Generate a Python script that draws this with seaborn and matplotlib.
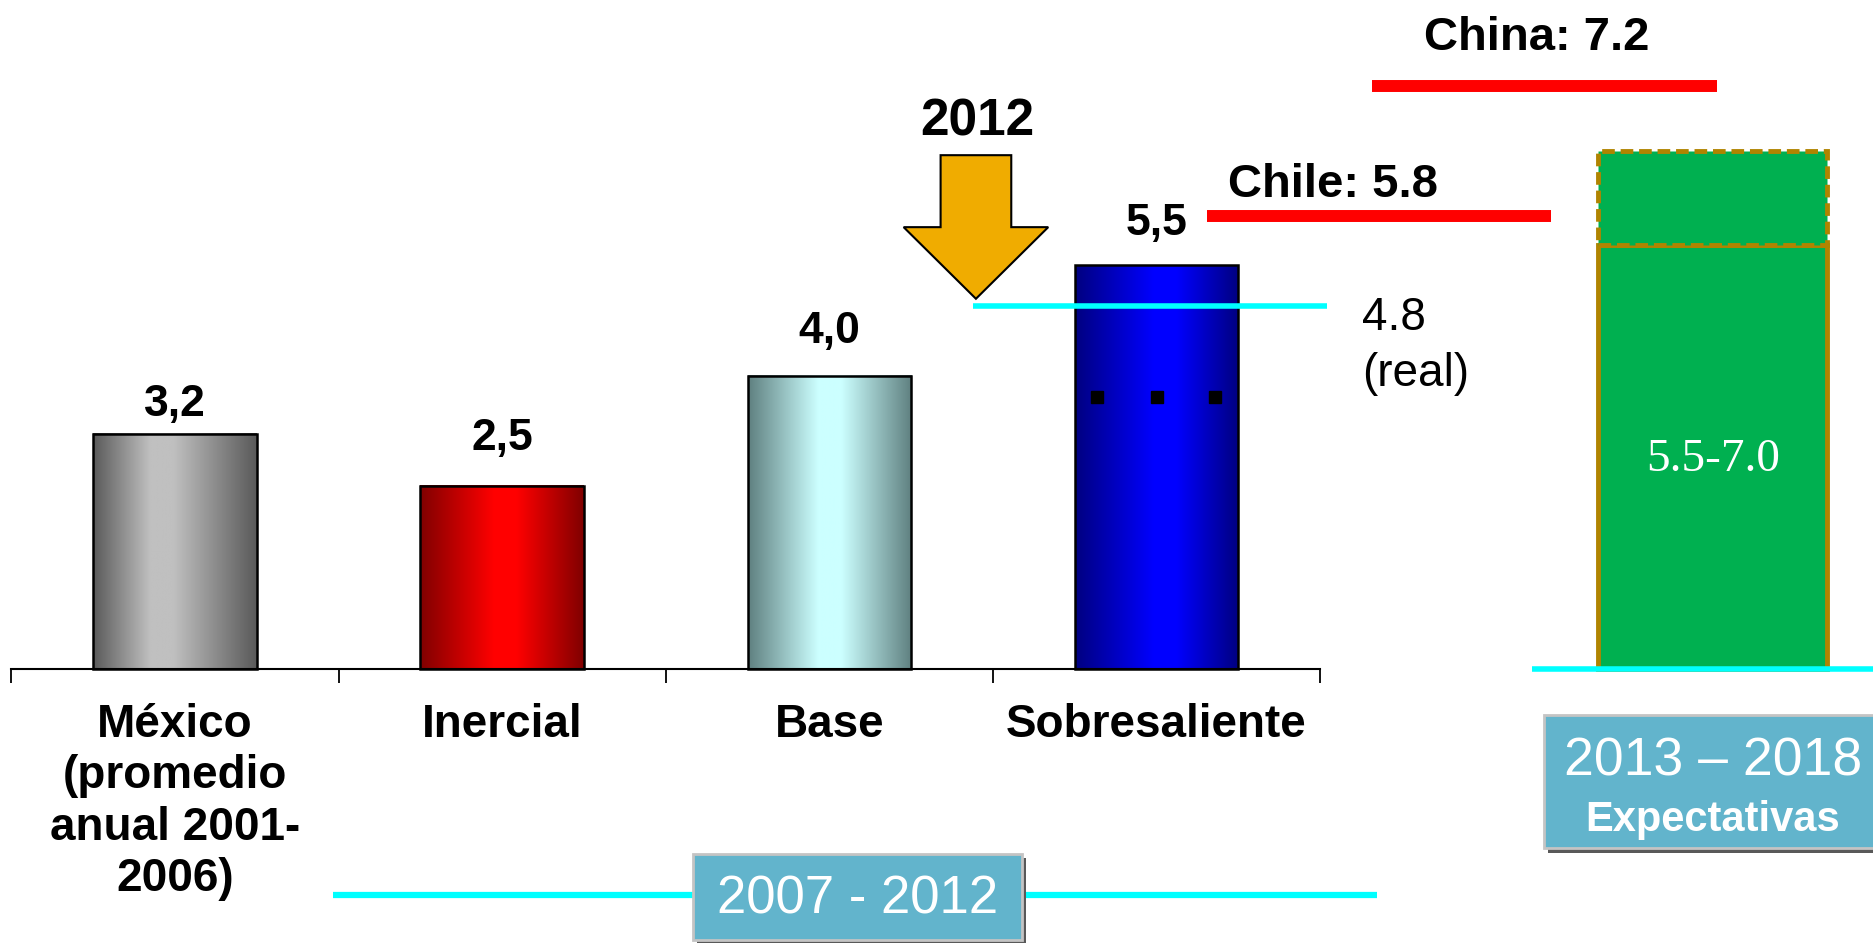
import numpy as np
import matplotlib
matplotlib.use("Agg")
import matplotlib.pyplot as plt
import seaborn as sns
from matplotlib.colors import LinearSegmentedColormap
from matplotlib.patches import Rectangle

# ========== DATA ==========
categories = ["México\n(promedio\nanual 2001-\n2006)", "Inercial", "Base", "Sobresaliente"]
values = [3.2, 2.5, 4.0, 5.5]
value_labels = ["3,2", "2,5", "4,0", "5,5"]
label_gap = [0.25, 0.48, 0.44, 0.42]

# 2013-2018 expectation bar (solid part + dashed upper part)
expect_x = 4.7
expect_low = 5.78
expect_high = 7.06
expect_label = "5.5-7.0"

# reference lines (as drawn in the picture)
real_2012_y = 4.95
chile_y = 6.17
china_y = 7.94
chile_label = "Chile: 5.8"
china_label = "China: 7.2"
real_label = "4.8\n(real)"

# bar gradients: edge colour, middle colour, middle position
bar_edges = ["#5a5a5a", "#800000", "#5f8080", "#000080"]
bar_mids = ["#c0c0c0", "#ff0000", "#ccffff", "#0000ff"]
mid_pos = [0.42, 0.52, 0.5, 0.55]

# ========== PLOT ==========
sns.set_style("white")
plt.rcParams["font.family"] = ["Liberation Sans", "DejaVu Sans"]
plt.rcParams["text.color"] = "black"
plt.rcParams["xtick.color"] = "black"
plt.rcParams["xtick.labelcolor"] = "black"

fig = plt.figure(figsize=(18.74, 9.43), dpi=100)
ax = fig.add_axes([0, 0, 1, 1])

sns.barplot(x=categories, y=values, width=0.5, color="white",
            edgecolor="black", linewidth=1.8, ax=ax)

grad = np.linspace(0, 1, 256).reshape(1, -1)
for i, bar in enumerate(ax.patches):
    x0, w, h = bar.get_x(), bar.get_width(), bar.get_height()
    m = mid_pos[i]
    cmap = LinearSegmentedColormap.from_list(
        "g%d" % i, [(0, bar_edges[i]), (m - 0.07, bar_mids[i]),
                    (m + 0.07, bar_mids[i]), (1, bar_edges[i])])
    ax.imshow(grad, cmap=cmap, extent=[x0, x0 + w, 0, h], aspect="auto", zorder=2)
    bar.set_facecolor("none")
    bar.set_zorder(3)
    ax.text(x0 + w / 2, h + label_gap[i], value_labels[i], ha="center", va="baseline",
            fontsize=32, fontweight="bold", zorder=6)

# expectation bar
ax.bar(expect_x, expect_low, width=0.7, color="#00b050", edgecolor="#b08400",
       linewidth=3.5, zorder=3)
ax.bar(expect_x, expect_high - expect_low, bottom=expect_low, width=0.7,
       color="#00b050", edgecolor="#b08400", linewidth=3.5,
       linestyle=(0, (2.6, 1.2)), zorder=3)
ax.text(expect_x, 2.85, expect_label, ha="center", va="center", fontsize=34,
        color="white", family=["Liberation Serif", "DejaVu Serif"], zorder=6)

# dots inside Sobresaliente bar
ax.plot([2.818, 3.0, 3.18], [3.71] * 3, "s", color="black", ms=8.5, zorder=5)

# reference lines
ax.plot([2.438, 3.52], [real_2012_y] * 2, color="#00ffff", lw=4, zorder=4,
        solid_capstyle="butt")
ax.plot([3.155, 4.206], [chile_y] * 2, color="#ff0000", lw=8.6, zorder=4,
        solid_capstyle="butt")
ax.plot([3.658, 4.714], [china_y] * 2, color="#ff0000", lw=8.6, zorder=4,
        solid_capstyle="butt")
ax.plot([4.148, 5.3], [0, 0], color="#00ffff", lw=4, zorder=4, solid_capstyle="butt")
ax.plot([0.484, 3.673], [-3.076] * 2, color="#00ffff", lw=4.5, zorder=2,
        solid_capstyle="butt")

ax.text(3.538, 6.43, chile_label, ha="center", va="baseline", fontsize=34,
        fontweight="bold")
ax.text(4.163, 8.43, china_label, ha="center", va="baseline", fontsize=34,
        fontweight="bold")
ax.text(3.629, 4.40, real_label, ha="left", va="center", fontsize=33,
        linespacing=1.35)

# 2012 arrow
ax.arrow(2.448, 7.0, 0, -1.955, width=0.216, head_width=0.442, head_length=0.975,
         length_includes_head=True, facecolor="#f0ac00", edgecolor="black",
         linewidth=1.5, zorder=5)
ax.text(2.453, 7.27, "2012", ha="center", va="baseline", fontsize=37,
        fontweight="bold")

# period boxes
dx, dy = 0.012, 0.055
for (bx, by, bw, bh) in [(1.584, -3.69, 1.005, 1.17), (4.185, -2.44, 1.2, 1.82)]:
    ax.add_patch(Rectangle((bx + dx, by - dy), bw, bh, facecolor="#595959",
                           edgecolor="none", zorder=5))
    ax.add_patch(Rectangle((bx, by), bw, bh, facecolor="#62b4cc",
                           edgecolor="#c4c4c4", linewidth=2, zorder=6))
ax.text(2.086, -3.14, "2007 - 2012", ha="center", va="center", fontsize=38,
        color="white", zorder=7)
ax.text(4.7, -1.45, "2013 – 2018", ha="center", va="baseline", fontsize=38.5,
        color="white", zorder=7)
ax.text(4.7, -2.2, "Expectativas", ha="center", va="baseline", fontsize=30,
        fontweight="bold", color="white", zorder=7)

# axis
for s in ["left", "right", "top"]:
    ax.spines[s].set_visible(False)
ax.spines["bottom"].set_position(("data", 0))
ax.spines["bottom"].set_bounds(-0.5, 3.5)
ax.spines["bottom"].set_linewidth(1.5)
ax.spines["bottom"].set_color("black")
ax.set_xticks([-0.5, 0.5, 1.5, 2.5, 3.5])
ax.set_xticklabels([])
ax.set_xticks(range(4), minor=True)
ax.set_xticklabels(categories, minor=True, fontsize=33, fontweight="bold",
                   linespacing=1.22, color="black")
ax.tick_params(axis="x", which="major", direction="out", length=10, width=1.3,
               color="black", bottom=True)
ax.tick_params(axis="x", which="minor", length=0, pad=24, bottom=True)
ax.set_yticks([])
ax.set_xlabel("")
ax.set_ylabel("")
ax.set_xlim(-0.535, 5.193)
ax.set_ylim(-3.727, 9.113)

fig.savefig("out.png", dpi=100)
